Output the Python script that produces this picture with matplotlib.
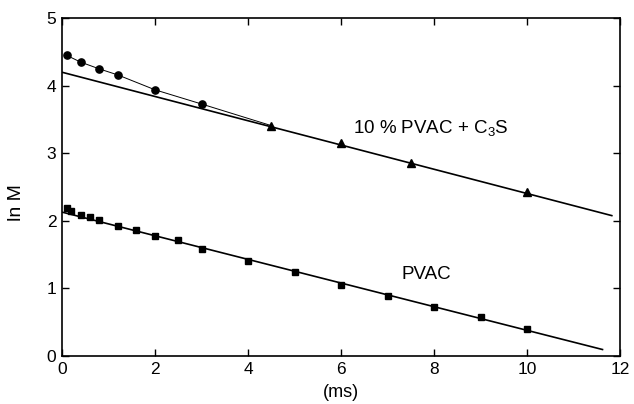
import matplotlib
matplotlib.use("Agg")
import matplotlib.pyplot as plt
import numpy as np

plt.rcParams['font.family'] = ['Liberation Sans', 'DejaVu Sans']
plt.rcParams['mathtext.fontset'] = 'custom'
plt.rcParams['mathtext.rm'] = 'Liberation Sans'
plt.rcParams['mathtext.it'] = 'Liberation Sans'

# PVAC + C3S early points (circles)
circ_x = [0.1, 0.4, 0.8, 1.2, 2.0, 3.0]
circ_y = [4.45, 4.35, 4.25, 4.16, 3.94, 3.73]
# PVAC + C3S later points (triangles)
tri_x = [4.5, 6.0, 7.5, 10.0]
tri_y = [3.41, 3.15, 2.86, 2.42]
# PVAC (squares)
sq_x = [0.1, 0.2, 0.4, 0.6, 0.8, 1.2, 1.6, 2.0, 2.5, 3.0, 4.0, 5.0, 6.0, 7.0, 8.0, 9.0, 10.0]
sq_y = [2.19, 2.15, 2.09, 2.05, 2.01, 1.93, 1.87, 1.78, 1.71, 1.59, 1.41, 1.24, 1.05, 0.89, 0.72, 0.58, 0.40]
# fitted lines (intercept, slope, end x)
fit_top = (4.20, -0.1795, 11.84)
fit_bot = (2.13, -0.175, 11.64)

fig = plt.figure(figsize=(6.34, 4.04), dpi=100)
ax = fig.add_axes([0.0978, 0.1188, 0.8802, 0.8362])

for b, m, xe in (fit_top, fit_bot):
    xs = np.array([0.0, xe])
    ax.plot(xs, b + m * xs, color='black', lw=1.2, solid_capstyle='butt')

ax.plot(circ_x + [tri_x[0]], circ_y + [tri_y[0]], color='black', lw=0.7)
ax.plot(circ_x, circ_y, 'o', color='black', ms=5.2)
ax.plot(tri_x, tri_y, '^', color='black', ms=5.5)
ax.plot(sq_x, sq_y, 's', color='black', ms=4.6)

ax.text(6.26, 3.37, '10 % PVAC + C$_3$S', fontsize=13.5, va='center', ha='left')
ax.text(7.31, 1.2, 'PVAC', fontsize=13.5, va='center', ha='left')

ax.set_xlim(0, 12)
ax.set_ylim(0, 5)
ax.set_xticks([0, 2, 4, 6, 8, 10, 12])
ax.set_yticks([0, 1, 2, 3, 4, 5])
ax.tick_params(direction='in', top=True, right=True, length=5, width=1.0,
               labelsize=12.5, pad=4)
for s in ax.spines.values():
    s.set_linewidth(1.2)
ax.set_xlabel('(ms)', fontsize=13, labelpad=5)
ax.set_ylabel('ln M', fontsize=14)
ax.yaxis.set_label_coords(-0.066, 0.453)

fig.savefig('out.png', dpi=100)
